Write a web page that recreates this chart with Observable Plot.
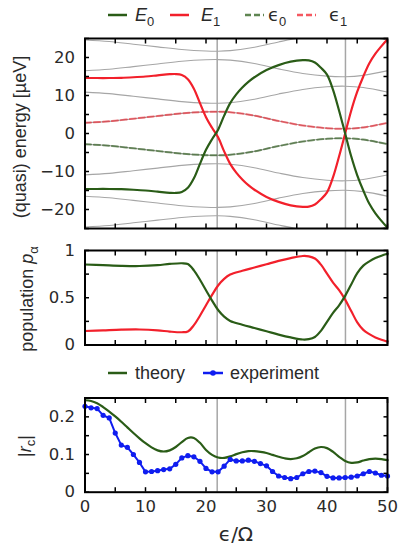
<!DOCTYPE html>
<html><head><meta charset="utf-8">
<script src="https://cdn.jsdelivr.net/npm/d3@7"></script>
<script src="https://cdn.jsdelivr.net/npm/@observablehq/plot@0.6"></script>
<style>
body{margin:0;background:#fff;}
#root{position:relative;width:399px;height:545px;overflow:hidden;}
#root svg{position:absolute;left:0;}
</style></head><body><div id="root"></div>
<script>
// ---------- data ----------
const xE  = [0,2,4,6,8,10,12,14,15,16,17,18,19,20,21,22,23,24,25,26,27,28,30,32,34,36,37,38,39,40,41,42,43,44,45,46,47,48,49,50];
const E1  = [14.6,14.6,14.6,14.65,14.8,15.0,15.3,15.6,15.65,15.4,14.3,11.8,8.0,4.3,1.5,-1.0,-4.7,-8.0,-10.3,-12.1,-13.6,-14.8,-16.7,-18.0,-18.9,-19.3,-19.25,-18.7,-17.3,-15.5,-11.5,-6.0,0.0,6.0,11.0,15.0,18.5,21.0,23.0,24.8];
const E0  = [-14.6,-14.6,-14.6,-14.65,-14.8,-15.0,-15.3,-15.6,-15.65,-15.4,-14.3,-11.8,-8.0,-4.3,-1.5,1.0,4.7,8.0,10.3,12.1,13.6,14.8,16.7,18.0,18.9,19.3,19.25,18.7,17.3,15.5,11.5,6.0,0.0,-6.0,-11.0,-15.0,-18.5,-21.0,-23.0,-24.8];

const xEps = [0,4,8,12,16,20,22,24,28,32,36,40,43,46,50];
const eps1 = [2.8,3.2,3.9,4.6,5.3,5.7,5.75,5.6,4.7,3.3,2.1,1.4,1.25,1.6,2.8];
const eps0 = [-2.8,-3.2,-3.9,-4.6,-5.3,-5.7,-5.75,-5.6,-4.7,-3.3,-2.1,-1.4,-1.25,-1.6,-2.8];
const omega = 13.7;                 // drive quantum in µeV (Floquet replicas)
const floquetOrders = [-2,-1,0,1,2];

const resonances = [21.85, 43.05];

const xP   = [0,3,6,9,12,14,16,17,18,19,20,21,22,23,24,26,28,30,32,34,36,37,38,39,40,41,42,43,44,45,46,47,48,49,50];
const pop0 = [0.852,0.845,0.838,0.836,0.845,0.858,0.865,0.857,0.79,0.69,0.58,0.47,0.37,0.30,0.255,0.215,0.18,0.145,0.11,0.08,0.058,0.062,0.085,0.15,0.245,0.34,0.42,0.52,0.64,0.76,0.84,0.885,0.92,0.945,0.965];
const pop1 = [0.148,0.155,0.162,0.164,0.155,0.142,0.135,0.143,0.21,0.31,0.42,0.53,0.63,0.70,0.745,0.785,0.82,0.855,0.89,0.92,0.942,0.938,0.915,0.85,0.755,0.66,0.58,0.48,0.36,0.24,0.16,0.115,0.08,0.055,0.035];

const xR = [0,1,2,3,4,5,6,7,8,9,10,11,12,13,14,15,16,17,18,19,20,21,22,23,24,25,26,27,28,29,30,31,32,33,34,35,36,37,38,39,40,41,42,43,44,45,46,47,48,49,50];
const theory = [0.244,0.242,0.236,0.226,0.214,0.201,0.187,0.172,0.157,0.143,0.130,
  0.119,0.111,0.108,0.111,0.120,0.133,0.144,0.144,0.131,0.112,
  0.099,0.092,0.091,0.095,0.101,0.106,0.109,0.109,0.107,0.104,
  0.099,0.094,0.090,0.088,0.090,0.096,0.106,0.116,0.120,0.117,
  0.107,0.094,0.083,0.078,0.079,0.084,0.088,0.089,0.088,0.085];
const experiment = [0.228,0.224,0.222,0.204,0.197,0.157,0.125,0.119,0.100,0.079,
  0.054,0.055,0.057,0.060,0.062,0.074,0.091,0.097,0.094,0.082,
  0.063,0.054,0.054,0.069,0.087,0.083,0.083,0.085,0.082,0.076,
  0.070,0.055,0.043,0.039,0.036,0.039,0.049,0.055,0.056,0.052,
  0.042,0.038,0.038,0.039,0.040,0.043,0.049,0.055,0.051,0.045,0.043];

const xMinor = [0,5,10,15,20,25,30,35,40,45,50];
const xMajor = [0,10,20,30,40,50];
const yMinor1 = [-25,-20,-15,-10,-5,0,5,10,15,20,25], yMajor1 = [-20,-10,0,10,20];
const yMinor2 = [0,0.25,0.5,0.75,1], yMajor2 = [0,0.5,1];
const yMinor3 = [0,0.05,0.1,0.15,0.2,0.25], yMajor3 = [0,0.1,0.2];

// ---------- style ----------
const FONT = '"Liberation Sans", Arial, sans-serif';
const TFONT = '"DejaVu Sans", sans-serif';
const GREEN = "#2a5c17", RED = "#f2202b", BLUE = "#0f1df0", GRAY = "#a6a6a6";
const TICKFS = 16.5, LABFS = 18;
const root = document.getElementById("root");

function frameAxes(yMinor, yMajor, showX) {
  const t = {tickSize: -4.5, label: null, fill: "none", stroke: "black", strokeWidth: 1.5};
  return [
    Plot.axisY(yMinor, {anchor: "left", ...t}),
    Plot.axisY(yMinor, {anchor: "right", ...t}),
    Plot.axisX(xMinor, {anchor: "bottom", ...t}),
    Plot.axisX(xMinor, {anchor: "top", ...t}),
    Plot.axisY(yMajor, {anchor: "left", tickSize: 0, tickPadding: 10, label: null, tickFormat: d3.format(""), fill: "#2a2a2a"}),
    showX ? Plot.axisX(xMajor, {anchor: "bottom", tickSize: 0, tickPadding: 8, label: null, tickFormat: d3.format(""), fill: "#2a2a2a"}) : null,
    Plot.frame({stroke: "black", strokeWidth: 2})
  ];
}

function panel(top, height, mt, mb, yDomain, marks) {
  const svg = Plot.plot({
    width: 399, height, marginLeft: 84.5, marginRight: 12, marginTop: mt, marginBottom: mb,
    x: {domain: [0, 50]}, y: {domain: yDomain},
    style: {fontFamily: TFONT, fontSize: TICKFS + "px", background: "transparent", overflow: "visible"},
    marks
  });
  svg.style.top = top + "px";
  root.appendChild(svg);
}

// Panel 1: energies
const grayLines = [];
for (const k of floquetOrders) {
  eps0.forEach((v, i) => grayLines.push({x: xEps[i], y: v + k * omega, z: "e0_" + k}));
  eps1.forEach((v, i) => grayLines.push({x: xEps[i], y: v + k * omega, z: "e1_" + k}));
}
panel(28, 212, 10, 12, [-25, 25], [
  Plot.line(grayLines, {x: "x", y: "y", z: "z", stroke: GRAY, strokeWidth: 1.1, curve: "catmull-rom", clip: true}),
  Plot.ruleX(resonances, {stroke: GRAY, strokeWidth: 1.5}),
  Plot.line(xEps.map((x, i) => [x, eps1[i]]), {stroke: RED, strokeOpacity: 0.6, strokeWidth: 2, strokeDasharray: "6,3", curve: "catmull-rom"}),
  Plot.line(xEps.map((x, i) => [x, eps0[i]]), {stroke: GREEN, strokeOpacity: 0.6, strokeWidth: 2, strokeDasharray: "6,3", curve: "catmull-rom"}),
  Plot.line(xE.map((x, i) => [x, E1[i]]), {stroke: RED, strokeWidth: 2.2, curve: "catmull-rom", clip: true}),
  Plot.line(xE.map((x, i) => [x, E0[i]]), {stroke: GREEN, strokeWidth: 2.2, curve: "catmull-rom", clip: true}),
  ...frameAxes(yMinor1, yMajor1, false)
]);

// Panel 2: populations
panel(240, 115, 10, 10.5, [0, 1], [
  Plot.ruleX(resonances, {stroke: GRAY, strokeWidth: 1.5}),
  Plot.line(xP.map((x, i) => [x, pop1[i]]), {stroke: RED, strokeWidth: 2.2, curve: "catmull-rom"}),
  Plot.line(xP.map((x, i) => [x, pop0[i]]), {stroke: GREEN, strokeWidth: 2.2, curve: "catmull-rom"}),
  ...frameAxes(yMinor2, yMajor2, false)
]);

// Panel 3: |r_c|
panel(387, 158, 10.5, 53.3, [0, 0.25], [
  Plot.ruleX(resonances, {stroke: GRAY, strokeWidth: 1.5}),
  Plot.line(xR.map((x, i) => [x, theory[i]]), {stroke: GREEN, strokeWidth: 2.2, curve: "catmull-rom"}),
  Plot.line(xR.map((x, i) => [x, experiment[i]]), {stroke: BLUE, strokeWidth: 2}),
  Plot.dot(xR.map((x, i) => [x, experiment[i]]), {fill: BLUE, r: 2.6}),
  ...frameAxes(yMinor3, yMajor3, true)
]);

// ---------- overlay: legends and axis labels ----------
const ov = d3.select(root).append("svg")
  .attr("width", 399).attr("height", 545).style("top", "0px")
  .style("font-family", FONT).style("font-size", LABFS + "px").attr("fill", "#2a2a2a");

function sym(g, x, y, parts) {
  const t = g.append("text").attr("x", x).attr("y", y);
  for (const p of parts) {
    const s = t.append("tspan").text(p.t);
    if (p.i) s.attr("font-style", "italic");
    if (p.f) s.attr("font-family", p.f);
    if (p.sub) s.attr("font-size", "0.72em").attr("dy", p.dy ?? 5);
    if (p.up) s.attr("dy", -p.up);
  }
  return t;
}
function swatch(x1, x2, y, color, dash, dot) {
  ov.append("line").attr("x1", x1).attr("x2", x2).attr("y1", y).attr("y2", y)
    .attr("stroke", color).attr("stroke-width", 2.5).attr("stroke-opacity", dash ? 0.75 : 1)
    .attr("stroke-dasharray", dash || null);
  if (dot) ov.append("circle").attr("cx", (x1 + x2) / 2).attr("cy", y).attr("r", 2.8).attr("fill", color);
}

// legend 1
const ly1 = 15, lb1 = 21;
swatch(108, 127, ly1, GREEN);
sym(ov, 135, lb1, [{t: "E", i: 1}, {t: "0", sub: 1}]);
swatch(170, 189, ly1, RED);
sym(ov, 201, lb1, [{t: "E", i: 1}, {t: "1", sub: 1}]);
swatch(245, 264, ly1, GREEN, "6,3");
sym(ov, 268, lb1, [{t: "ϵ", f: TFONT}, {t: "0", sub: 1}]);
swatch(297, 316, ly1, RED, "6,3");
sym(ov, 329, lb1, [{t: "ϵ", f: TFONT}, {t: "1", sub: 1}]);

// legend 2
const ly2 = 373, lb2 = 379;
swatch(108, 127, ly2, GREEN);
ov.append("text").attr("x", 135).attr("y", lb2).text("theory");
swatch(203, 223, ly2, BLUE, null, true);
ov.append("text").attr("x", 230).attr("y", lb2).text("experiment");

// y labels (rotated)
function ylabel(x, y, parts) {
  const g = ov.append("g").attr("transform", `translate(${x},${y}) rotate(-90)`);
  sym(g, 0, 0, parts).attr("text-anchor", "middle");
}
ylabel(26, 137, [{t: "(quasi) energy [µeV]"}]);
ylabel(33, 299, [{t: "population "}, {t: "p", i: 1}, {t: "α", sub: 1}]);
ylabel(31, 446, [{t: "|"}, {t: "r", i: 1}, {t: "c", sub: 1, dy: 4}, {t: "|", up: 4}]);

// x label
sym(ov, 236, 541, [{t: "ϵ/Ω"}]).attr("text-anchor", "middle").attr("font-family", TFONT).attr("font-size", 20);
</script>
</body></html>
